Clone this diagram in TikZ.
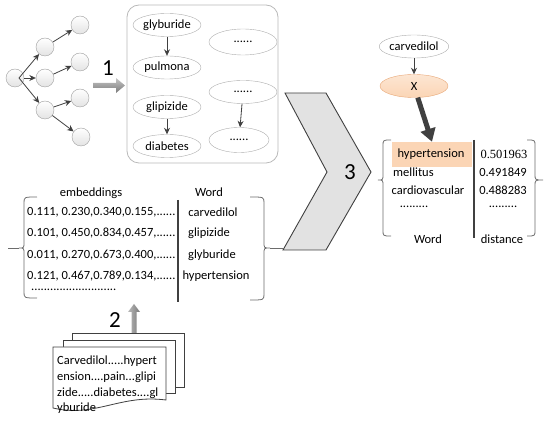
\documentclass[tikz,border=0pt]{standalone}
\usepackage{fontspec}
\setmainfont{Carlito}
\newfontfamily\numfont{Liberation Serif}
\usetikzlibrary{shapes.geometric,arrows.meta}
\definecolor{edgec}{HTML}{404040}
\definecolor{peach}{HTML}{FBD5B5}
\definecolor{peachdk}{HTML}{E8A878}
\definecolor{chev}{HTML}{E2E2E2}
\tikzset{
  tnode/.style={circle, draw=gray!75, top color=white, bottom color=gray!22, minimum size=18pt, inner sep=0pt},
  ell/.style={ellipse, draw=gray!65, minimum width=68pt, minimum height=23pt, inner sep=0pt},
  arr/.style={-{Stealth[length=6.5pt,width=6pt]}, draw=edgec, line width=0.8pt},
  brc/.style={draw=gray!85!black, line width=0.8pt},
  txt/.style={inner sep=0pt},
  big/.style={inner sep=0pt, font=\fontsize{23}{25}\selectfont}
}
\begin{document}
\begin{tikzpicture}[x=1pt,y=-1pt,font=\fontsize{12.5}{14}\selectfont]
\useasboundingbox (0,0) rectangle (550,422);

% ---------------- tree ----------------
\node[tnode] (r)  at (15,78) {};
\node[tnode] (a1) at (45,47) {};
\node[tnode] (a2) at (45,78) {};
\node[tnode] (a3) at (45,110) {};
\node[tnode] (b1) at (80,25) {};
\node[tnode] (b2) at (80,62) {};
\node[tnode] (b3) at (80,98) {};
\node[tnode] (b4) at (81,137) {};
\draw[arr] (r.center) ++(4,0) -- (a1);
\draw[arr] (r) -- (a2);
\draw[arr] (r.center) ++(4,0) -- (a3);
\draw[arr] (a1) -- (b1);
\draw[arr] (a2) -- (b2);
\draw[arr] (a3) -- (b3);
\draw[arr] (a3) -- (b4);

% arrow 1
\path[top color=gray!45, bottom color=gray!95!black] (93,83) -- (116,83) -- (116,78) -- (125,85.5) -- (116,93) -- (116,88) -- (93,88) -- cycle;
\node[big] (one) at (108,68) {1};

% ---------------- box of relations ----------------
\draw[draw=gray!55, line width=0.8pt, rounded corners=12pt] (127,5) rectangle (278,163);
\node[ell] (gly) at (167,25) {glyburide};
\node[ell] (pul) at (167,67.5) {pulmona};
\node[ell] (gli) at (167,107) {glipizide};
\node[ell] (dia) at (167,146) {diabetes};
\node[ell, minimum height=26pt] (e1) at (243,42) {......};
\node[ell] (e2) at (243,92) {......};
\node[ell, minimum width=60pt, minimum height=25pt] (e3) at (239,140) {......};
\draw[arr] (gly) -- (pul);
\draw[arr] (gli) -- (dia);
\draw[arr] (e2) -- (e3);

% ---------------- chevron ----------------
\draw[fill=chev, draw=gray!50!black, line width=0.9pt] (285,93) -- (326,93) -- (371,172) -- (326,250) -- (283,250) -- (327,172) -- cycle;
\coordinate (chbl) at (283,248);
\node[big] (three) at (350,172) {3};

% ---------------- top right ----------------
\node[ell] (carv) at (414,46.5) {carvedilol};
\node[ell, draw=peachdk, top color=peach!60, bottom color=peach] (X) at (414,86) {X};
\draw[arr] (carv) -- (X);

% result table
\node[fill=peach, minimum width=80pt, minimum height=25pt, inner sep=0pt] (hl) at (432,154.5) {};
\node[txt] (hyp) at (431,154) {hypertension};
\draw[-{Triangle[length=13pt,width=15pt]}, draw=edgec, line width=5pt] (X) -- (hl.north);
\node[txt, anchor=west] (mel) at (393,172) {mellitus};
\node[txt] (card) at (428,190) {cardiovascular};
\node[txt] (dot1) at (414,207) {.........};
\node[txt] (w2) at (428,239) {Word};
\node[txt] (n1) at (504,154) {\numfont 0.501963};
\node[txt] (n2) at (503,172) {0.491849};
\node[txt] (n3) at (503,190) {0.488283};
\node[txt] (dot2) at (503,207) {.........};
\node[txt] (dist) at (502,239) {distance};
\draw[draw=edgec, line width=2pt] (474,140) -- (474,238);
\draw[brc] (391,140) .. controls (383,140) .. (383,146) -- (383,174) .. controls (383,180) .. (378,180) .. controls (383,180) .. (383,186) -- (383,230) .. controls (383,236) .. (391,236);
\draw[brc] (527,140) .. controls (535,140) .. (535,146) -- (535,174) .. controls (535,180) .. (543,180) .. controls (535,180) .. (535,186) -- (535,230) .. controls (535,236) .. (527,236);

% ---------------- embeddings table ----------------
\node[txt] (emb) at (91,193) {embeddings};
\node[txt] (w1) at (209,192) {Word};
\node[txt, anchor=west] (r1) at (27,212) {0.111, 0.230,0.340,0.155,......};
\node[txt, anchor=west] (r2) at (27,233) {0.101, 0.450,0.834,0.457,......};
\node[txt, anchor=west] (r3) at (27,255) {0.011, 0.270,0.673,0.400,......};
\node[txt, anchor=west] (r4) at (27,276) {0.121, 0.467,0.789,0.134,......};
\node[txt, anchor=west] (r5) at (31,290) {...........................};
\node[txt] (c1) at (213,212) {carvedilol};
\node[txt] (c2) at (209,233) {glipizide};
\node[txt] (c3) at (212,255) {glyburide};
\node[txt] (c4) at (216,276) {hypertension};
\draw[draw=edgec, line width=2pt] (178,200) -- (178,302);
\draw[brc] (37,197) .. controls (24,197) .. (24,203) -- (24,242) .. controls (24,248) .. (19,248) .. controls (24,248) .. (24,254) -- (24,292) .. controls (24,298) .. (37,298);
\coordinate (ltick) at (8,248);
\draw[brc] (19,248) -- (ltick);
\draw[brc] (250,197) .. controls (264,197) .. (264,203) -- (264,242) .. controls (264,248) .. (270,248) .. controls (264,248) .. (264,254) -- (264,294) .. controls (264,300) .. (250,300);
\draw[brc] (270,248) -- (chbl);

% arrow 2
\path[left color=gray!55, right color=gray!95!black] (131.5,333) -- (131.5,312) -- (128,312) -- (134,304) -- (140,312) -- (136.5,312) -- (136.5,333) -- cycle;
\node[big] (two) at (115,320) {2};

% ---------------- documents ----------------
\draw[fill=white, draw=edgec, line width=0.8pt] (72,333) rectangle (184,387);
\draw[fill=white, draw=edgec, line width=0.8pt] (63,340) rectangle (175,393);
\draw[fill=white, draw=edgec, line width=0.8pt] (53,347) -- (166,347) -- (166,400) .. controls (120,394) and (95,418) .. (53,408) -- cycle;
\node[txt, anchor=west] (d1) at (57,361) {Carvedilol.....hypert};
\node[txt, anchor=west] (d2) at (57,377) {ension....pain...glipi};
\node[txt, anchor=west] (d3) at (57,393) {zide.....diabetes....gl};
\node[txt, anchor=west] (d4) at (57,408) {yburide};
\end{tikzpicture}
\end{document}
